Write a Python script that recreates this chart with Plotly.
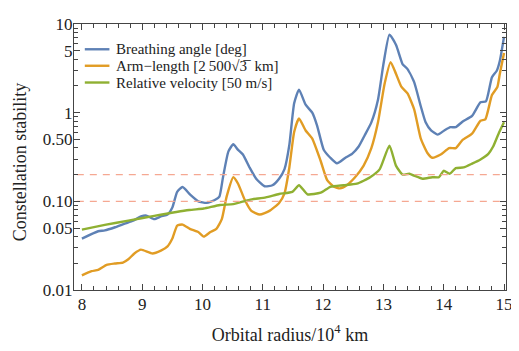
import plotly.graph_objects as go

# ---- data ----
breath_x = [8.0, 8.27, 8.38, 8.55, 8.71, 8.85, 8.98, 9.07, 9.20, 9.31, 9.42, 9.50, 9.58, 9.67,
            9.80, 9.93, 10.07, 10.21, 10.28, 10.34, 10.43, 10.51, 10.59, 10.67, 10.78, 10.89,
            11.03, 11.16, 11.27, 11.36, 11.44, 11.52, 11.60, 11.71, 11.82, 11.90, 12.01, 12.12,
            12.23, 12.37, 12.48, 12.59, 12.69, 12.80, 12.91, 13.00, 13.10, 13.21, 13.32, 13.40,
            13.51, 13.62, 13.70, 13.79, 13.90, 14.01, 14.11, 14.20, 14.31, 14.47, 14.61, 14.70,
            14.80, 14.88, 14.93, 15.0]
breath_y = [0.038, 0.046, 0.047, 0.051, 0.056, 0.0605, 0.0675, 0.069, 0.063, 0.0675, 0.071, 0.085,
            0.128, 0.145, 0.118, 0.100, 0.096, 0.104, 0.113, 0.187, 0.366, 0.44, 0.38, 0.337,
            0.241, 0.18, 0.148, 0.152, 0.18, 0.231, 0.433, 1.28, 1.82, 1.23, 1.0, 0.716, 0.382,
            0.31, 0.268, 0.31, 0.343, 0.415, 0.556, 0.778, 1.40, 3.51, 7.59, 5.8, 3.51, 3.1,
            2.21, 1.18, 0.778, 0.63, 0.566, 0.63, 0.686, 0.686, 0.791, 0.92, 1.31, 1.34, 2.51,
            2.97, 3.82, 7.16]

arm_x = [8.0, 8.16, 8.27, 8.41, 8.55, 8.68, 8.77, 8.87, 8.98, 9.17, 9.31, 9.42, 9.50, 9.58,
         9.67, 9.79, 9.93, 10.02, 10.13, 10.23, 10.32, 10.40, 10.51, 10.59, 10.70, 10.81, 10.95,
         11.11, 11.27, 11.36, 11.44, 11.52, 11.60, 11.71, 11.82, 11.96, 12.07, 12.18, 12.28,
         12.39, 12.53, 12.67, 12.80, 12.91, 13.02, 13.12, 13.21, 13.30, 13.40, 13.51, 13.62,
         13.73, 13.81, 13.95, 14.09, 14.20, 14.31, 14.47, 14.61, 14.69, 14.80, 14.89, 14.93, 15.0]
arm_y = [0.0146, 0.0163, 0.0169, 0.0192, 0.0199, 0.0204, 0.0222, 0.0258, 0.0285, 0.0258, 0.0278,
         0.031, 0.038, 0.0533, 0.0547, 0.049, 0.045, 0.040, 0.045, 0.049, 0.063, 0.113, 0.187,
         0.158, 0.104, 0.078, 0.071, 0.078, 0.096, 0.123, 0.241, 0.605, 0.86, 0.63, 0.51, 0.285,
         0.172, 0.146, 0.14, 0.152, 0.187, 0.251, 0.398, 0.778, 2.12, 3.72, 2.73, 1.95, 1.65,
         1.09, 0.51, 0.351, 0.31, 0.337, 0.398, 0.398, 0.491, 0.58, 0.81, 0.84, 1.58, 1.95,
         2.73, 4.71]

vel_x = [8.0, 8.38, 8.77, 9.20, 9.78, 10.02, 10.29, 10.51, 10.78, 11.05, 11.27, 11.49, 11.60,
         11.74, 11.96, 12.12, 12.34, 12.56, 12.78, 12.94, 13.10, 13.21, 13.32, 13.43, 13.51,
         13.65, 13.81, 13.92, 14.00, 14.10, 14.20, 14.33, 14.47, 14.61, 14.74, 14.82, 14.91, 15.0]
vel_y = [0.0479, 0.0542, 0.0605, 0.0686, 0.0798, 0.083, 0.091, 0.093, 0.104, 0.111, 0.121, 0.128,
         0.152, 0.120, 0.125, 0.146, 0.152, 0.158, 0.187, 0.231, 0.425, 0.251, 0.2, 0.205, 0.195,
         0.18, 0.187, 0.187, 0.221, 0.205, 0.237, 0.241, 0.266, 0.297, 0.343, 0.415, 0.58, 0.778]

threshold_values = [0.1, 0.2]

x_tick_vals = [8, 9, 10, 11, 12, 13, 14, 15]
x_tick_text = ["8", "9", "10", "11", "12", "13", "14", "15"]
y_tick_vals = [0.01, 0.05, 0.1, 0.5, 1, 5, 10]
y_tick_text = ["0.01", "0.05", "0.10", "0.50", "1", "5", "10"]

names = ["Breathing angle [deg]",
         "Arm\u2212length [2\u2009500\u221a3\u0305  km]",
         "Relative velocity [50 m/s]"]
colors = ["#5E81B5", "#E19C24", "#8FB032"]
y_title = "Constellation stability"
x_title = "Orbital radius/10<sup>4</sup> km"

font_family = "Liberation Serif, Times New Roman, serif"

# ---- figure ----
fig = go.Figure()
series = [(breath_x, breath_y), (arm_x, arm_y), (vel_x, vel_y)]
for (xs, ys), nm, c in zip(series, names, colors):
    fig.add_trace(go.Scatter(x=xs, y=ys, mode="lines", name=nm, showlegend=False,
                             line=dict(color=c, width=2.4, shape="spline", smoothing=0.5)))

for tv in threshold_values:
    fig.add_trace(go.Scatter(x=[7.7, 15.2], y=[tv, tv], mode="lines", showlegend=False,
                             line=dict(color="#F5A892", width=1.2, dash="7px,6px"),
                             hoverinfo="skip"))

# compact legend (drawn as annotations + short sample lines in paper coordinates)
legend_rows_y = [0.905, 0.843, 0.780]
for nm, c, ry in zip(names, colors, legend_rows_y):
    fig.add_shape(type="line", xref="paper", yref="paper", x0=0.025, x1=0.082, y0=ry, y1=ry,
                  line=dict(color=c, width=2.4))
    fig.add_annotation(xref="paper", yref="paper", x=0.093, y=ry, xanchor="left",
                       yanchor="middle", text=nm, showarrow=False,
                       font=dict(family=font_family, size=15, color="#222"))

# y-axis title placed as rotated text near the left edge
fig.add_annotation(xref="paper", yref="paper", x=-0.125, y=0.48, xanchor="center",
                   yanchor="middle", text=y_title, textangle=-90, showarrow=False,
                   font=dict(family=font_family, size=18, color="#222"))

minor_x = [v / 10 for v in range(80, 151, 2) if v % 10 != 0]
minor_y = [m * 10 ** e for e in (-2, -1, 0) for m in range(2, 10) if m != 5]

axis_common = dict(showline=True, linecolor="#444", linewidth=1.2, mirror="ticks",
                   ticks="inside", ticklen=6, tickwidth=1, tickcolor="#444",
                   showgrid=False, zeroline=False, ticklabeloverflow="allow",
                   tickfont=dict(family=font_family, size=17, color="#222"))

fig.update_layout(
    width=511, height=343,
    margin=dict(l=66, r=8, t=7, b=61),
    paper_bgcolor="white", plot_bgcolor="white",
    font=dict(family=font_family, color="#222"),
    showlegend=False,
    xaxis=dict(axis_common, type="linear", range=[7.869, 15.033],
               tickvals=x_tick_vals, ticktext=x_tick_text, ticklabelstandoff=-2,
               minor=dict(tickvals=minor_x, ticks="inside", ticklen=3.5, tickcolor="#444"),
               title=dict(text=x_title, standoff=15,
                          font=dict(family=font_family, size=18, color="#222"))),
    yaxis=dict(axis_common, type="log", range=[-2, 1],
               tickvals=y_tick_vals, ticktext=y_tick_text, ticklabelstandoff=-3,
               minor=dict(tickvals=minor_y, ticks="inside", ticklen=3.5, tickcolor="#444")),
)

fig.write_html("out.html")
